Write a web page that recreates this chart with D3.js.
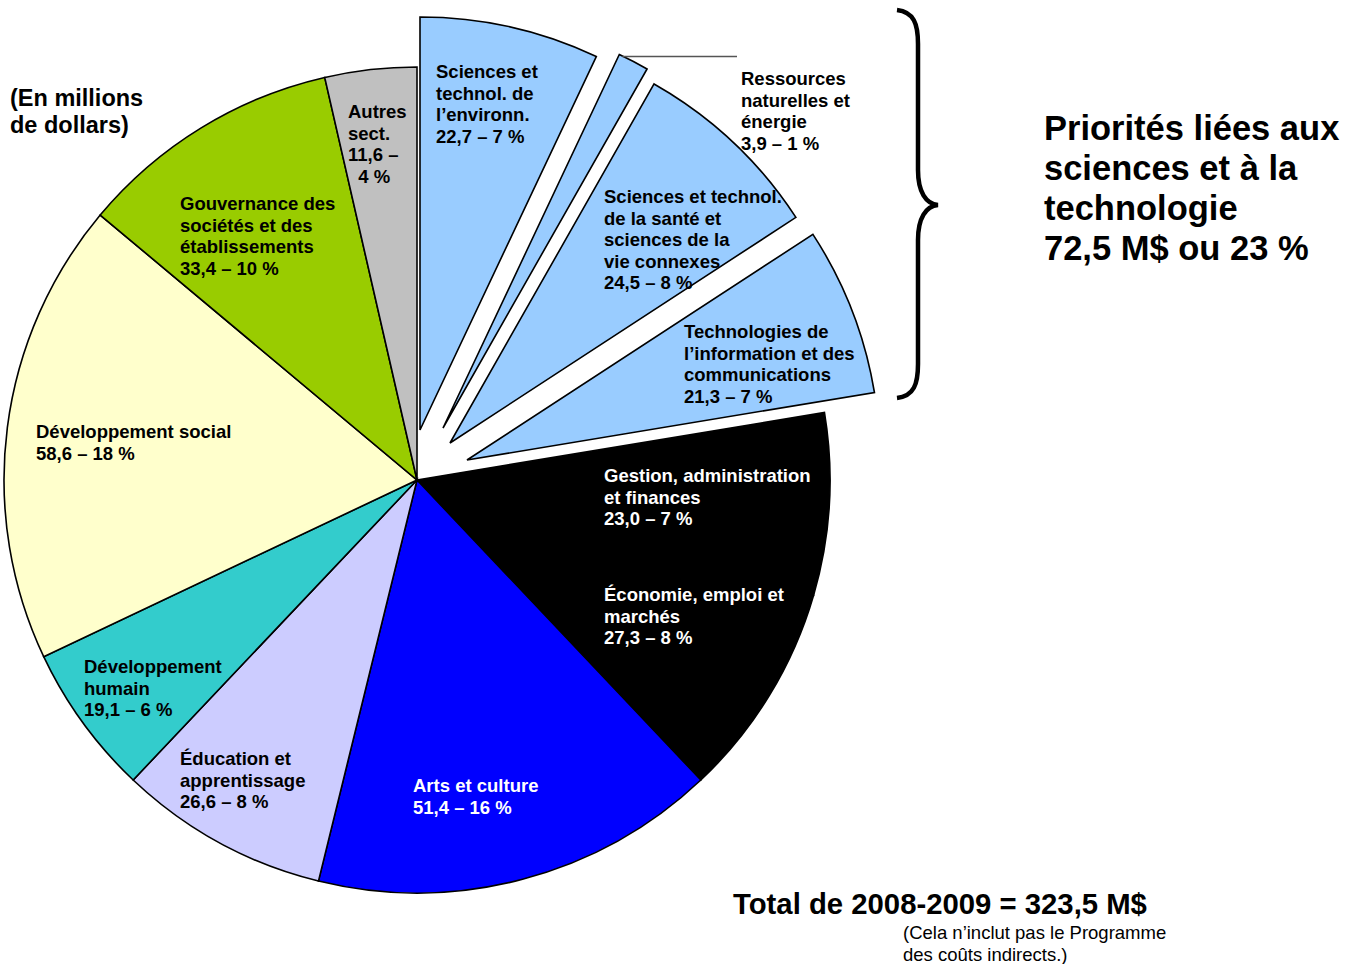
<!DOCTYPE html>
<html>
<head>
<meta charset="utf-8">
<script src="https://cdn.jsdelivr.net/npm/d3@7"></script>
<style>
  body { margin: 0; background: #fff; }
  svg { display: block; font-family: "Liberation Sans", Arial, sans-serif; }
  .lbl { font-size: 18.5px; font-weight: bold; white-space: pre; }
</style>
</head>
<body>
<script>
// données (en millions de dollars), sens horaire depuis midi
const categories = [
  "Sciences et technol. de l\u2019environn.",
  "Ressources naturelles et énergie",
  "Sciences et technol. de la santé et sciences de la vie connexes",
  "Technologies de l\u2019information et des communications",
  "Gestion, administration et finances",
  "Économie, emploi et marchés",
  "Arts et culture",
  "Éducation et apprentissage",
  "Développement humain",
  "Développement social",
  "Gouvernance des sociétés et des établissements",
  "Autres sect."
];
const values = [22.7, 3.9, 24.5, 21.3, 23.0, 27.3, 51.4, 26.6, 19.1, 58.6, 33.4, 11.6];
const labelLines = [
  ["Sciences et", "technol. de", "l\u2019environn."],
  ["Ressources", "naturelles et", "énergie"],
  ["Sciences et technol.", "de la santé et", "sciences de la", "vie connexes"],
  ["Technologies de", "l\u2019information et des", "communications"],
  ["Gestion, administration", "et finances"],
  ["Économie, emploi et", "marchés"],
  ["Arts et culture"],
  ["Éducation et", "apprentissage"],
  ["Développement", "humain"],
  ["Développement social"],
  ["Gouvernance des", "sociétés et des", "établissements"],
  ["Autres", "sect."]
];
const total = 323.5;
// chiffres tels qu'imprimés sur le graphique
const stTotal = 72.5, stPct = 23;

// style
const colors = ["#99CCFF", "#99CCFF", "#99CCFF", "#99CCFF", "#000000", "#000000",
                "#0000FF", "#CCCCFF", "#33CCCC", "#FFFFCC", "#99CC00", "#C0C0C0"];
const textColors = ["#000", "#000", "#000", "#000", "#fff", "#fff", "#fff", "#000", "#000", "#000", "#000", "#000"];
const explode = {0: [3, -50], 1: [26, -52], 2: [33, -37], 3: [50, -20]};
const labelPos = [[436, 78], [741, 85], [604, 203], [684, 338], [604, 482], [604, 601],
                  [413, 792], [180, 765], [84, 673], [36, 438], [180, 210], [348, 118]];

const width = 1358, height = 964;
const cx = 417, cy = 480, R = 413, lh = 21.5;

const svg = d3.select("body").append("svg")
  .attr("width", width).attr("height", height);

const pie = d3.pie().sort(null).value(d => d)(values);
const arc = d3.arc().innerRadius(0).outerRadius(R);

const g = svg.append("g").attr("transform", `translate(${cx},${cy})`);

g.selectAll("path.slice")
  .data(pie)
  .join("path")
  .attr("class", "slice")
  .attr("transform", (d, i) => explode[i] ? `translate(${explode[i][0]},${explode[i][1]})` : null)
  .attr("d", arc)
  .attr("fill", (d, i) => colors[i])
  .attr("stroke", "#000")
  .attr("stroke-width", 1.6)
  .attr("stroke-linejoin", "miter");

// ligne de rappel pour la petite tranche
{
  const d = pie[1], off = explode[1];
  const x0 = cx + off[0] + R * Math.sin(d.startAngle) + 3;
  const y0 = cy + off[1] - R * Math.cos(d.startAngle) + 2;
  svg.append("line")
    .attr("x1", x0).attr("y1", y0)
    .attr("x2", labelPos[1][0] - 4).attr("y2", y0)
    .attr("stroke", "#555").attr("stroke-width", 1.5);
}

// étiquettes
const fmt = v => v.toFixed(1).replace(".", ",");
labelLines.forEach((lines, i) => {
  const pct = Math.round(values[i] / total * 100);
  let all;
  if (i === 11) all = [...lines, fmt(values[i]) + " \u2013", "  " + pct + " %"];
  else all = [...lines, fmt(values[i]) + " \u2013 " + pct + " %"];
  const t = svg.append("text").attr("class", "lbl")
    .attr("fill", textColors[i]);
  all.forEach((s, k) => {
    t.append("tspan").attr("x", labelPos[i][0]).attr("y", labelPos[i][1] + k * lh).text(s);
  });
});

// unité
const unit = svg.append("text").attr("font-size", 23.5).attr("font-weight", "bold");
["(En millions", "de dollars)"].forEach((s, k) =>
  unit.append("tspan").attr("x", 10).attr("y", 106 + k * 27).text(s));

// accolade et titre des priorités S-T
svg.append("path")
  .attr("d", "M897,10 C914,12 918,24 918,44 L918,170 C918,192 926,204 938,205 C926,206 918,218 918,240 L918,364 C918,384 914,396 897,398")
  .attr("fill", "none").attr("stroke", "#000").attr("stroke-width", 4.5);

const pri = svg.append("text").attr("font-size", 34.5).attr("font-weight", "bold");
["Priorités liées aux", "sciences et à la", "technologie",
 fmt(stTotal) + " M$ ou " + stPct + " %"].forEach((s, k) =>
  pri.append("tspan").attr("x", 1044).attr("y", 140 + k * 40).text(s));

// total
svg.append("text").attr("x", 733).attr("y", 914)
  .attr("font-size", 29.3).attr("font-weight", "bold")
  .text("Total de 2008-2009 = " + fmt(total) + " M$");
const note = svg.append("text").attr("font-size", 18.5);
["(Cela n\u2019inclut pas le Programme", "des coûts indirects.)"].forEach((s, k) =>
  note.append("tspan").attr("x", 903).attr("y", 939 + k * 22).text(s));
</script>
</body>
</html>
